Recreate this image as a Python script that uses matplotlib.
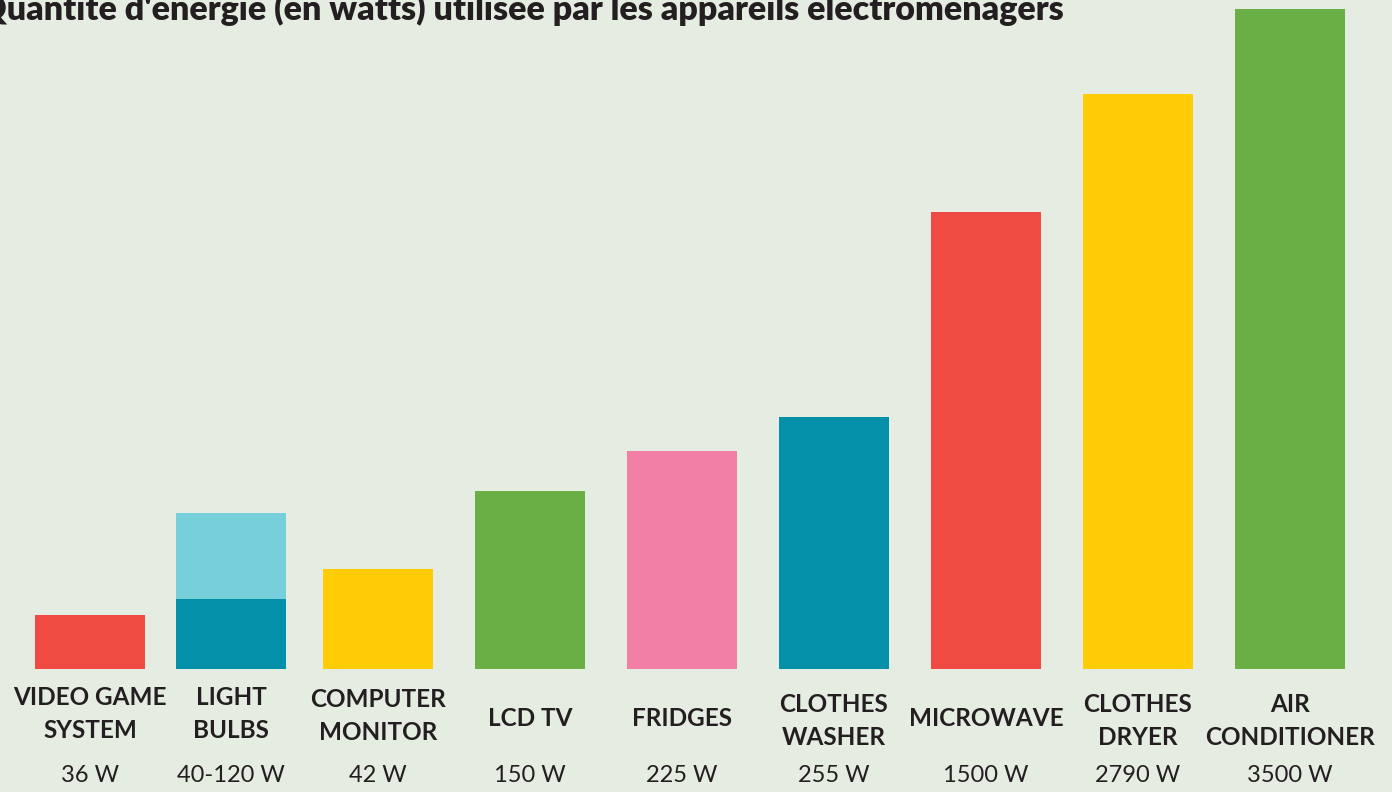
import matplotlib
matplotlib.use('Agg')
import matplotlib.pyplot as plt

# data (bar heights are the infographic's visual scale)
categories = ['VIDEO GAME\nSYSTEM', 'LIGHT\nBULBS', 'COMPUTER\nMONITOR', 'LCD TV', 'FRIDGES',
              'CLOTHES\nWASHER', 'MICROWAVE', 'CLOTHES\nDRYER', 'AIR\nCONDITIONER']
value_labels = ['36 W', '40-120 W', '42 W', '150 W', '225 W', '255 W', '1500 W', '2790 W', '3500 W']
bar_heights = [54, 70, 100, 178, 218, 252, 457, 575, 660]
bulb_upper = 156   # light bulbs range bar (upper, lighter part)

colors = ['#F04B42', '#0590AA', '#FFCC05', '#6AAF46', '#F17FA6',
          '#0590AA', '#F04B42', '#FFCC05', '#6AAF46']
bg = '#E5EDE2'
txt = '#231F20'

# layout
centers = [90, 231, 378, 530, 682, 834, 986, 1138, 1290]
name_y = [714, 714, 716, 719, 719, 721, 719, 721, 721]
bar_w = 110
baseline = 669

fig = plt.figure(figsize=(13.92, 7.92), dpi=100, facecolor=bg)
ax = fig.add_axes([0, 0, 1, 1])
ax.set_facecolor(bg)
ax.set_xlim(0, 1392)
ax.set_ylim(baseline - 792, baseline)
ax.axis('off')

ax.bar(centers[1], bulb_upper, width=bar_w, color='#77CFDB', align='center')
ax.bar(centers, bar_heights, width=bar_w, color=colors, align='center')

for c, ny, name, v in zip(centers, name_y, categories, value_labels):
    ax.text(c, baseline - ny, name, ha='center', va='center',
            fontsize=17.5, fontweight='bold', family='Lato', color=txt,
            linespacing=1.5)
    ax.text(c, baseline - 775, v, ha='center', va='center', fontsize=17,
            family='Lato', fontweight='normal', color=txt)

fig.text(-0.015, 1.009, "Quantité d'énergie (en watts) utilisée par les appareils électroménagers",
         ha='left', va='top', fontsize=24.5, fontweight='heavy', family='Lato', color=txt)

fig.savefig('out.png', dpi=100, facecolor=bg)
